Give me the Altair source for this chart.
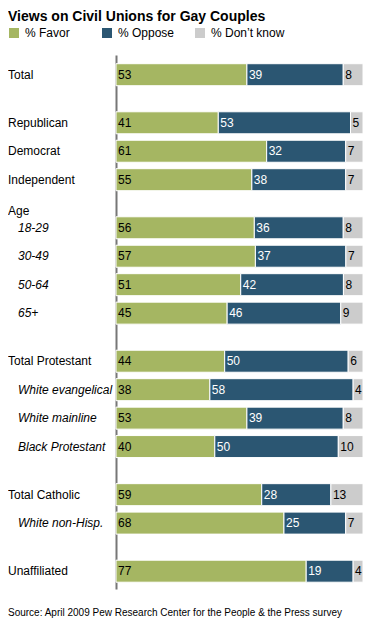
import altair as alt
import pandas as pd

title_text = "Views on Civil Unions for Gay Couples"
source_text = "Source: April 2009 Pew Research Center for the People & the Press survey"
series = ["% Favor", "% Oppose", "% Don\u2019t know"]
colors = ["#a5b662", "#2b5672", "#cccccc"]

groups = [
    (None, ["Total"]),
    (None, ["Republican", "Democrat", "Independent"]),
    ("Age", ["18-29", "30-49", "50-64", "65+"]),
    (None, ["Total Protestant", "White evangelical", "White mainline", "Black Protestant"]),
    (None, ["Total Catholic", "White non-Hisp."]),
    (None, ["Unaffiliated"]),
]
italic_rows = ["18-29", "30-49", "50-64", "65+", "White evangelical",
               "White mainline", "Black Protestant", "White non-Hisp."]

favor = [53, 41, 61, 55, 56, 57, 51, 45, 44, 38, 53, 40, 59, 68, 77]
oppose = [39, 53, 32, 38, 36, 37, 42, 46, 50, 58, 39, 50, 28, 25, 19]
dontknow = [8, 5, 7, 7, 8, 7, 8, 9, 6, 4, 8, 10, 13, 7, 4]

FONT = "Liberation Sans"
GAP = 0.69          # extra space between groups, in row units
HEADER_LEAD = 0.6   # group header sits this far above its first row
TOP_PAD = 0.517
BOTTOM_PAD = 0.45
ROW_PX = 29.0

# layout: row positions in row units
pos = {}
headers = []
y = 0.0
for gi, (header, rows) in enumerate(groups):
    if gi > 0:
        y += GAP
    for i, r in enumerate(rows):
        if i == 0 and header:
            headers.append({"label": header, "pos": y - HEADER_LEAD})
        pos[r] = y
        y += 1
row_names = [r for _, rows in groups for r in rows]
ymax = max(pos.values()) + BOTTOM_PAD
plot_h = round((ymax + TOP_PAD) * ROW_PX)

recs = []
for i, r in enumerate(row_names):
    for k, (s, vals) in enumerate(zip(series, [favor, oppose, dontknow])):
        recs.append({"row": r, "pos": pos[r], "series": s, "order": k, "value": vals[i]})
df = pd.DataFrame(recs)

labels_df = pd.DataFrame({"label": row_names, "pos": [pos[r] for r in row_names],
                          "italic": [r in italic_rows for r in row_names]})
headers_df = pd.DataFrame(headers)

yscale = alt.Scale(domain=[-TOP_PAD, ymax], reverse=True, nice=False, zero=False)
xscale = alt.Scale(domain=[0, 1], nice=False)

base = alt.Chart(df).transform_stack(
    stack="value", groupby=["row"], as_=["x0", "x1"], offset="normalize",
    sort=[alt.SortField("order", order="ascending")]
)

bars = base.mark_bar(orient="horizontal", size=22, stroke="white", strokeWidth=1).encode(
    x=alt.X("x0:Q", scale=xscale, axis=None),
    x2="x1:Q",
    y=alt.Y("pos:Q", scale=yscale,
            axis=alt.Axis(labels=False, ticks=False, grid=False, title=None,
                          domainColor="#777777", domainWidth=2)),
    color=alt.Color("series:N", scale=alt.Scale(domain=series, range=colors),
                    legend=alt.Legend(title=None, orient="none", legendX=-108, legendY=-28,
                                      direction="horizontal", columns=3, gridAlign="all",
                                      columnPadding=2, symbolType="square", symbolSize=100,
                                      symbolStrokeWidth=0, labelFont=FONT, labelFontSize=12,
                                      labelColor="black", labelOffset=5)),
)

values = base.mark_text(align="left", baseline="middle", dx=2, font=FONT, fontSize=12).encode(
    x=alt.X("x0:Q", scale=xscale),
    y=alt.Y("pos:Q", scale=yscale),
    text="value:Q",
    color=alt.condition(alt.datum.series == series[1], alt.value("white"), alt.value("black")),
)

cat_plain = alt.Chart(labels_df).transform_filter("!datum.italic").mark_text(
    align="left", baseline="middle", font=FONT, fontSize=12, color="black"
).encode(x=alt.value(-108), y=alt.Y("pos:Q", scale=yscale), text="label:N")

cat_italic = alt.Chart(labels_df).transform_filter("datum.italic").mark_text(
    align="left", baseline="middle", font=FONT, fontSize=12, fontStyle="italic", color="black"
).encode(x=alt.value(-98), y=alt.Y("pos:Q", scale=yscale), text="label:N")

hdr = alt.Chart(headers_df).mark_text(
    align="left", baseline="middle", font=FONT, fontSize=12, color="black"
).encode(x=alt.value(-108), y=alt.Y("pos:Q", scale=yscale), text="label:N")

TOP = 47
title = alt.Chart(pd.DataFrame({"t": [title_text]})).mark_text(
    align="left", baseline="alphabetic", font=FONT, fontSize=14, fontWeight="bold", color="black"
).encode(x=alt.value(-108), y=alt.value(13 - TOP), text="t:N")

source = alt.Chart(pd.DataFrame({"t": [source_text]})).mark_text(
    align="left", baseline="alphabetic", font=FONT, fontSize=10, color="black"
).encode(x=alt.value(-108), y=alt.value(608 - TOP), text="t:N")

chart = alt.layer(bars, values, cat_plain, cat_italic, hdr, title, source).properties(
    width=247, height=plot_h,
    autosize=alt.AutoSizeParams(type="none"),
    padding={"left": 108, "top": TOP, "right": 0, "bottom": 612 - TOP - plot_h},
).configure_view(stroke=None)

chart.save("out.html", embed_options={"renderer": "svg", "actions": False})
